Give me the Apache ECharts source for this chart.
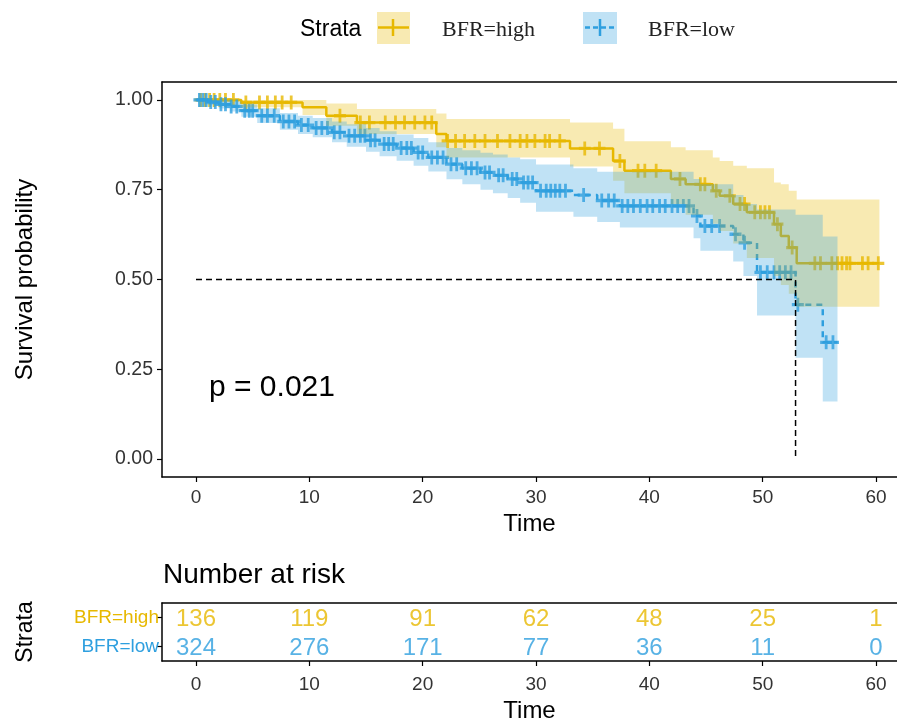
<!DOCTYPE html>
<html>
  <head>
    <meta charset="utf-8" />
    <title>Survival by BFR</title>
    <script src="https://cdn.jsdelivr.net/npm/echarts@6/dist/echarts.min.js"></script>
    <style>
      * {
        padding: 0;
        margin: 0;
      }
      #chart-panel {
        width: 897px;
        height: 724px;
        background: #fff;
      }
    </style>
  </head>
  <body>
    <div id="chart-panel"></div>
    <script type="text/javascript">
      var myChart = echarts.init(document.getElementById("chart-panel"));

      // ---- data ----
      const timeTicks = [0, 10, 20, 30, 40, 50, 60];
      const survTicks = [0, 0.25, 0.5, 0.75, 1];
      const strata = ["BFR=high", "BFR=low"];

      // BFR=high : KM steps (time, survival, lower / upper 95% CI)
      const highTime = [0, 4, 9.4, 11.5, 14.2, 21.2, 22.1, 33, 36.8, 37.8, 41.9, 43.2, 45.6, 46.2, 47.4, 48.6, 51, 51.6, 52.3, 53];
      const highSurv = [1, 0.993, 0.98, 0.956, 0.937, 0.905, 0.886, 0.865, 0.83, 0.803, 0.78, 0.765, 0.747, 0.733, 0.71, 0.687, 0.654, 0.621, 0.589, 0.545];
      const highLower = [1, 0.98, 0.958, 0.928, 0.905, 0.868, 0.84, 0.815, 0.775, 0.74, 0.71, 0.68, 0.655, 0.635, 0.6, 0.56, 0.51, 0.485, 0.46, 0.424];
      const highUpper = [1, 1, 1, 0.99, 0.975, 0.962, 0.947, 0.937, 0.92, 0.885, 0.868, 0.86, 0.84, 0.83, 0.817, 0.81, 0.77, 0.765, 0.747, 0.723];
      const highEnd = 60.3;
      const highCensor = [0.4, 0.8, 1.2, 1.6, 2.1, 2.6, 3.3, 4.4, 5.6, 6.3, 7.0, 7.6, 8.4, 12.7, 14.5, 15.3, 16.7, 17.6, 18.4, 19.3, 20.2, 20.8, 22.2, 22.9, 23.7, 24.6, 25.5, 26.6, 27.7, 28.6, 29.2, 29.9, 30.8, 31.2, 32.1, 34.3, 35.6, 37.4, 39.0, 39.6, 40.6, 42.7, 44.5, 44.9, 45.9, 47.1, 48.0, 48.4, 49.3, 49.8, 50.2, 50.6, 51.3, 52.6, 54.6, 55.1, 56.1, 56.6, 57.0, 57.4, 57.7, 58.8, 59.3, 60.2];

      // BFR=low
      const lowTime = [0, 1, 2, 3, 4, 5.4, 7.4, 9, 10.3, 12, 13.3, 15, 16.2, 17.7, 19.2, 20.5, 22.1, 23.5, 25.1, 26.2, 27.5, 28.6, 30, 33.3, 35.4, 37.4, 43.9, 44.5, 47.4, 48.3, 49.5, 52.9, 55.3];
      const lowSurv = [1, 0.994, 0.988, 0.982, 0.97, 0.956, 0.94, 0.93, 0.922, 0.91, 0.9, 0.888, 0.877, 0.866, 0.854, 0.84, 0.821, 0.81, 0.798, 0.79, 0.78, 0.77, 0.747, 0.735, 0.72, 0.705, 0.677, 0.649, 0.626, 0.602, 0.52, 0.43, 0.325];
      const lowLower = [1, 0.985, 0.976, 0.968, 0.953, 0.936, 0.917, 0.905, 0.896, 0.882, 0.87, 0.856, 0.843, 0.831, 0.817, 0.801, 0.779, 0.765, 0.75, 0.74, 0.727, 0.714, 0.689, 0.675, 0.66, 0.645, 0.615, 0.58, 0.55, 0.51, 0.4, 0.282, 0.16];
      const lowUpper = [1, 1, 1, 0.996, 0.987, 0.977, 0.964, 0.956, 0.95, 0.94, 0.932, 0.922, 0.913, 0.904, 0.894, 0.882, 0.866, 0.86, 0.853, 0.848, 0.84, 0.835, 0.82, 0.81, 0.8, 0.8, 0.78, 0.765, 0.735, 0.71, 0.695, 0.68, 0.62];
      const lowEnd = 56.6;
      const lowCensor = [0.3, 0.6, 0.9, 1.3, 1.7, 2.2, 2.6, 3.1, 3.6, 4.3, 4.7, 5.0, 5.8, 6.3, 6.9, 7.7, 8.2, 8.7, 9.3, 9.9, 10.6, 11.1, 11.6, 12.2, 12.7, 13.5, 14.0, 14.5, 14.9, 15.4, 15.8, 16.6, 17.0, 17.4, 18.1, 18.6, 19.0, 19.6, 20.0, 20.8, 21.3, 21.8, 22.5, 23.0, 23.8, 24.3, 24.8, 25.5, 25.9, 26.7, 27.1, 27.9, 28.3, 28.9, 29.3, 29.7, 30.4, 30.9, 31.3, 31.7, 32.1, 32.6, 34.2, 35.8, 36.4, 36.9, 37.6, 38.1, 38.6, 39.2, 39.8, 40.3, 40.9, 41.4, 42.0, 42.5, 43.0, 43.5, 44.2, 44.9, 45.5, 46.2, 47.6, 48.4, 49.8, 50.4, 51.0, 51.5, 52.0, 52.5, 53.1, 55.6, 56.2];

      const medianTime = 52.9;
      const pValue = "p = 0.021";

      // number at risk at timeTicks
      const riskHigh = [136, 119, 91, 62, 48, 25, 1];
      const riskLow = [324, 276, 171, 77, 36, 11, 0];

      // ---- styling ----
      const ORANGE = "#E7B800";
      const BLUE = "#2E9FDF";
      const FONT = "Liberation Sans";
      const PLUS = "path://M4.6,0h2.8v4.6h4.6v2.8h-4.6v4.6h-2.8v-4.6h-4.6v-2.8h4.6z";
      // the panel runs past the right edge of the picture
      const X_MIN = -3;
      const X_MAX = 61.85;

      function stepData(times, surv, end) {
        var res = [];
        for (var i = 0; i < times.length; i++) res.push([times[i], surv[i]]);
        res.push([end, surv[surv.length - 1]]);
        return res;
      }

      function survAt(times, surv, t) {
        var s = surv[0];
        for (var i = 0; i < times.length; i++) {
          if (times[i] <= t) s = surv[i];
        }
        return s;
      }

      function censorData(censor, times, surv) {
        return censor.map(function (t) {
          return [t, survAt(times, surv, t)];
        });
      }

      // confidence band drawn as one stepped polygon
      function bandSeries(times, lower, upper, end, color) {
        return {
          type: "custom",
          xAxisIndex: 0,
          yAxisIndex: 0,
          silent: true,
          z: 5,
          data: [[0, 1]],
          renderItem: function (params, api) {
            var pts = [];
            for (var i = 0; i < times.length; i++) {
              var nx = i + 1 < times.length ? times[i + 1] : end;
              pts.push(api.coord([times[i], upper[i]]), api.coord([nx, upper[i]]));
            }
            for (var j = times.length - 1; j >= 0; j--) {
              var nx2 = j + 1 < times.length ? times[j + 1] : end;
              pts.push(api.coord([nx2, lower[j]]), api.coord([times[j], lower[j]]));
            }
            return {
              type: "polygon",
              shape: { points: pts },
              style: { fill: color },
            };
          },
        };
      }

      function riskData(values, name) {
        return values.map(function (v, i) {
          return [timeTicks[i], name, v];
        });
      }

      var frame = { show: true, onZero: false, lineStyle: { color: "#000", width: 1.5 } };
      var tickStyle = { color: "#000", width: 1.2 };

      function timeAxis(gridIndex, margin, nameGap) {
        return {
          type: "value",
          gridIndex: gridIndex,
          min: X_MIN,
          max: X_MAX,
          axisLine: frame,
          splitLine: { show: false },
          axisTick: { show: true, customValues: timeTicks, length: 5, lineStyle: tickStyle },
          axisLabel: { customValues: timeTicks, fontSize: 19, color: "#333", margin: margin },
          name: "Time",
          nameLocation: "middle",
          nameGap: nameGap,
          nameTextStyle: { fontSize: 24, color: "#000" },
        };
      }

      function topFrame(gridIndex) {
        return {
          type: "value",
          gridIndex: gridIndex,
          position: "top",
          min: X_MIN,
          max: X_MAX,
          axisLine: frame,
          axisTick: { show: false },
          axisLabel: { show: false },
          splitLine: { show: false },
        };
      }

      function riskSeries(values, name, color) {
        return {
          type: "scatter",
          xAxisIndex: 1,
          yAxisIndex: 1,
          symbolSize: 1,
          itemStyle: { color: "rgba(0,0,0,0)" },
          data: riskData(values, name),
          label: {
            show: true,
            position: "inside",
            offset: [0, 2],
            fontSize: 24,
            color: color,
            formatter: function (p) {
              return p.value[2];
            },
          },
        };
      }

      var option = {
        animation: false,
        textStyle: { fontFamily: FONT },
        grid: [
          { left: 162, top: 82, right: 0, height: 395 },
          { left: 162, top: 603, right: 0, height: 60 },
        ],
        xAxis: [timeAxis(0, 11, 33), timeAxis(1, 14, 38), topFrame(0), topFrame(1)],
        yAxis: [
          {
            type: "value",
            gridIndex: 0,
            min: -0.05,
            max: 1.05,
            axisLine: frame,
            splitLine: { show: false },
            axisTick: { show: true, customValues: survTicks, length: 5, lineStyle: tickStyle },
            axisLabel: {
              customValues: survTicks,
              fontSize: 19.5,
              color: "#333",
              margin: 9,
              formatter: function (v) {
                return v.toFixed(2);
              },
            },
            name: "Survival probability",
            nameLocation: "middle",
            nameGap: 125,
            nameTextStyle: { fontSize: 24, color: "#000" },
          },
          {
            type: "category",
            gridIndex: 1,
            data: [strata[1], strata[0]],
            axisLine: frame,
            splitLine: { show: false },
            axisTick: { show: true, alignWithLabel: true, length: 5, lineStyle: tickStyle },
            axisLabel: {
              fontSize: 19,
              margin: 3,
              color: function (v) {
                return v === strata[0] ? ORANGE : BLUE;
              },
            },
            name: "Strata",
            nameLocation: "middle",
            nameGap: 125,
            nameTextStyle: { fontSize: 23, color: "#000" },
          },
        ],
        graphic: [
          { type: "text", left: 300, top: 18, style: { text: "Strata", font: "23px " + FONT, fill: "#000" } },
          { type: "rect", shape: { x: 377, y: 12, width: 33, height: 32 }, style: { fill: "rgba(231,184,0,0.3)" } },
          { type: "line", shape: { x1: 378, y1: 27.5, x2: 409, y2: 27.5 }, style: { stroke: ORANGE, lineWidth: 2.5 } },
          { type: "line", shape: { x1: 393, y1: 19, x2: 393, y2: 36 }, style: { stroke: ORANGE, lineWidth: 2.5 } },
          { type: "text", left: 442, top: 19, style: { text: strata[0], font: "22px Liberation Serif", fill: "#222" } },
          { type: "rect", shape: { x: 583, y: 12, width: 34, height: 32 }, style: { fill: "rgba(46,159,223,0.3)" } },
          { type: "line", shape: { x1: 585, y1: 27.5, x2: 615, y2: 27.5 }, style: { stroke: BLUE, lineWidth: 2.5, lineDash: [5, 3] } },
          { type: "line", shape: { x1: 600, y1: 19, x2: 600, y2: 36 }, style: { stroke: BLUE, lineWidth: 2.5 } },
          { type: "text", left: 648, top: 19, style: { text: strata[1], font: "22px Liberation Serif", fill: "#222" } },
          { type: "text", left: 209, top: 373, style: { text: pValue, font: "30px " + FONT, fill: "#000" } },
          { type: "text", left: 163, top: 561, style: { text: "Number at risk", font: "28px " + FONT, fill: "#000" } },
        ],
        series: [
          {
            name: strata[0],
            type: "line",
            step: "end",
            showSymbol: false,
            symbol: "none",
            z: 2,
            data: stepData(highTime, highSurv, highEnd),
            lineStyle: { color: ORANGE, width: 2.5 },
          },
          {
            type: "scatter",
            z: 2,
            symbol: PLUS,
            symbolSize: [12, 14],
            itemStyle: { color: ORANGE },
            data: censorData(highCensor, highTime, highSurv),
          },
          {
            name: strata[1],
            type: "line",
            step: "end",
            showSymbol: false,
            symbol: "none",
            z: 3,
            data: stepData(lowTime, lowSurv, lowEnd),
            lineStyle: { color: BLUE, width: 2.5, type: [6, 5] },
          },
          {
            type: "scatter",
            z: 3,
            symbol: PLUS,
            symbolSize: [12, 14],
            itemStyle: { color: BLUE },
            data: censorData(lowCensor, lowTime, lowSurv),
          },
          bandSeries(highTime, highLower, highUpper, highEnd, "rgba(231,184,0,0.3)"),
          bandSeries(lowTime, lowLower, lowUpper, lowEnd, "rgba(46,159,223,0.3)"),
          {
            type: "line",
            z: 6,
            symbol: "none",
            data: [
              [0, 0.5],
              [medianTime, 0.5],
              [medianTime, 0],
            ],
            lineStyle: { color: "#000", width: 1.5, type: [6, 4] },
          },
          riskSeries(riskHigh, strata[0], ORANGE),
          riskSeries(riskLow, strata[1], BLUE),
        ],
      };

      myChart.setOption(option);
    </script>
  </body>
</html>
